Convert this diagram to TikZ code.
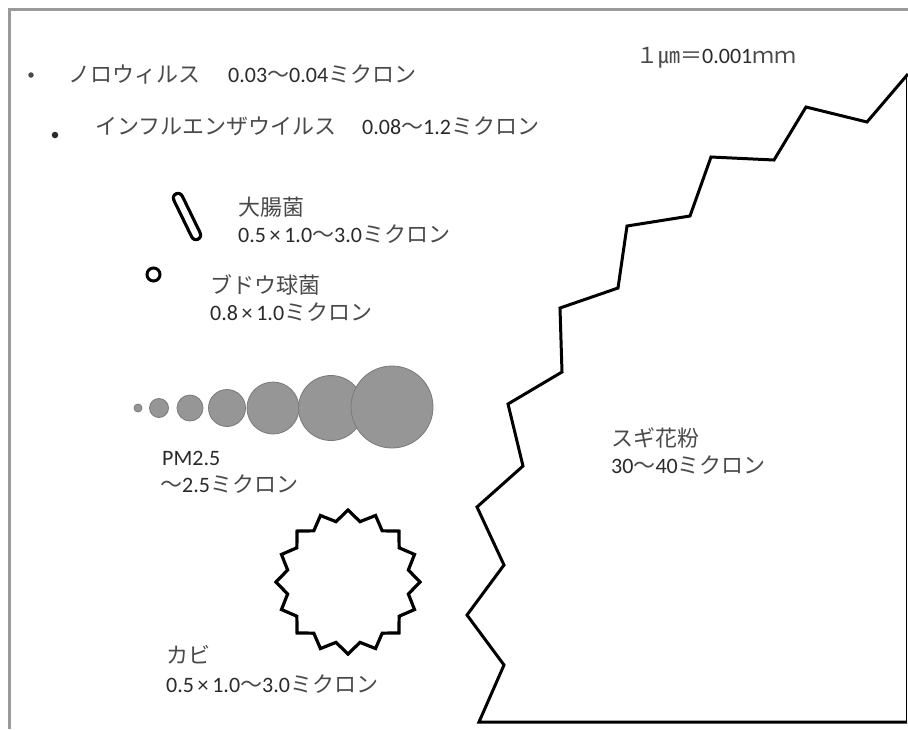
\documentclass[tikz,border=0pt]{standalone}
\usepackage{fontspec}
\setmainfont{Carlito}
\newfontfamily\cjk{Noto Sans CJK JP}
\usetikzlibrary{shapes.geometric}
\definecolor{txt}{HTML}{2A2A2A}
\definecolor{jtxt}{HTML}{4A4A4A}
\definecolor{frm}{HTML}{9A9A9A}
\definecolor{pmfill}{HTML}{969696}
\definecolor{pmedge}{HTML}{7A7A7A}
\newcommand\jp[1]{{\cjk\color{jtxt}#1}}
\begin{document}
\begin{tikzpicture}[x=1pt,y=-1pt,
  lbl/.style={anchor=base west,inner sep=0,font=\fontsize{22}{26}\selectfont,text=txt},
  pm/.style={circle,inner sep=0,fill=pmfill,draw=pmedge,line width=0.8},
  outline/.style={draw=black,line width=3,line join=miter},
  dotmark/.style={circle,inner sep=0,fill=#1}]
\useasboundingbox (0,0) rectangle (908,729);
\fill[white] (0,0) rectangle (908,729);
% frame
\draw[frm,line width=2.5] (9.5,729) -- (9.5,9.5) -- (908,9.5);

% viruses
\node[dotmark=jtxt,minimum size=5.5] (d1) at (31,75) {};
\node[lbl] (noro) at (68,82) {\jp{ノロウィルス}};
\node[lbl] (noroz) at (228,82) {0.03\jp{〜}0.04\jp{ミクロン}};
\node[dotmark=txt,minimum size=6.5] (d2) at (55,135) {};
\node[lbl] (flu) at (95,134) {\jp{インフルエンザウイルス}};
\node[lbl] (fluz) at (362,134) {0.08\jp{〜}1.2\jp{ミクロン}};

% unit
\node[lbl] (unit) at (636,63) {\jp{１㎛＝}0.001\jp{ｍｍ}};

% E. coli
\coordinate (ca) at (178,198);
\coordinate (cb) at (196,235);
\draw[line width=12.5,line cap=round] (ca) -- (cb);
\draw[white,line width=6,line cap=round] (ca) -- (cb);
\node[lbl] (ecoli) at (238,215) {\jp{大腸菌}};
\node[lbl] (ecoliz) at (238,242) {0.5\,×\,1.0\jp{〜}3.0\jp{ミクロン}};

% Staphylococcus
\node[circle,draw=black,line width=3,inner sep=0,minimum size=13] (ring) at (153.5,274.5) {};
\node[lbl] (staph) at (210,293) {\jp{ブドウ球菌}};
\node[lbl] (staphz) at (210,320) {0.8\,×\,1.0\jp{ミクロン}};

% PM2.5
\node[pm,minimum size=8] (p1) at (138,408) {};
\node[pm,minimum size=19] (p2) at (159,408) {};
\node[pm,minimum size=26] (p3) at (190,408) {};
\node[pm,minimum size=37] (p4) at (227,408) {};
\node[pm,minimum size=52] (p5) at (273,408) {};
\node[pm,minimum size=65] (p6) at (331,408) {};
\node[pm,minimum size=82] (p7) at (392,407) {};
\node[lbl] (pm) at (162,465) {PM2.5};
\node[lbl] (pmz) at (160,492) {\jp{〜}2.5\jp{ミクロン}};

% mold
\node[star,star points=16,star point ratio=1.17,minimum size=144,inner sep=0,
      draw=black,line width=3.2] (mold) at (348,582) {};
\node[lbl] (kabi) at (166,663) {\jp{カビ}};
\node[lbl] (kabiz) at (166,692) {0.5\,×\,1.0\jp{〜}3.0\jp{ミクロン}};

% cedar pollen
\draw[outline] (908,74) -- (867,122) -- (806,107) -- (774,160) -- (711,157)
  -- (690,216) -- (627,226) -- (618,288) -- (560,308) -- (562,372)
  -- (508,404) -- (523,466) -- (477,507) -- (504,565) -- (467,615)
  -- (504,665) -- (479,722) -- (907,722);
\draw[black,line width=1.5] (906.5,722) -- (906.5,78);
\node[lbl] (sugi) at (611,446) {\jp{スギ花粉}};
\node[lbl] (sugiz) at (611,473) {30\jp{〜}40\jp{ミクロン}};
\end{tikzpicture}
\end{document}
